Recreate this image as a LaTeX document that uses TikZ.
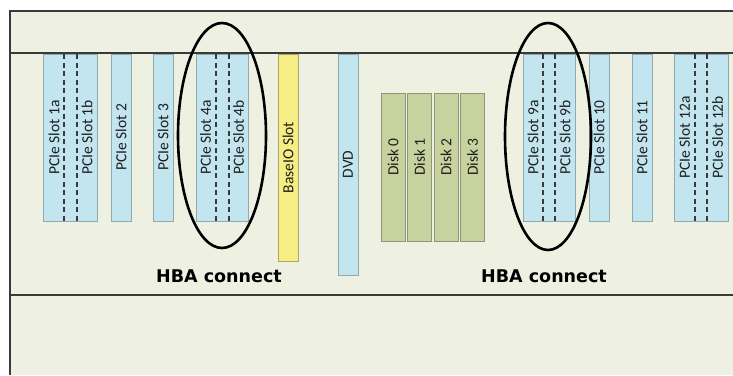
\documentclass[tikz,border=0pt]{standalone}
\usepackage{fontspec}
\newfontfamily\slotfont{Carlito}
\newfontfamily\hbafont{DejaVu Sans}
\usetikzlibrary{positioning}
\definecolor{boardback}{HTML}{EEF0E2}
\definecolor{boardline}{HTML}{3A3A3A}
\definecolor{slotblue}{HTML}{C2E5F0}
\definecolor{slotedge}{HTML}{8FA9B0}
\definecolor{baseyellow}{HTML}{F6EE84}
\definecolor{baseedge}{HTML}{ADA665}
\definecolor{diskgreen}{HTML}{C8D29E}
\definecolor{diskedge}{HTML}{8F957A}
\definecolor{textdark}{HTML}{1E1E1E}

\begin{document}
\begin{tikzpicture}[x=1pt,y=-1pt,
  slot/.style={rectangle,draw=slotedge,fill=slotblue,inner sep=0pt,outer sep=0pt,line width=0.8pt,minimum height=167pt},
  baseio/.style={slot,draw=baseedge,fill=baseyellow,minimum height=207pt},
  disk/.style={slot,draw=diskedge,fill=diskgreen,minimum width=24pt,minimum height=148pt},
  lbl/.style={rotate=90,inner sep=0pt,text=textdark,font={\slotfont\fontsize{15.5pt}{17pt}\selectfont}},
  divider/.style={dashed,dash pattern=on 5pt off 3.5pt,line width=1.1pt,draw=boardline},
  hba/.style={line width=2.6pt},
  hbatext/.style={inner sep=0pt,text=black,font={\hbafont\bfseries\fontsize{17.5pt}{19pt}\selectfont}}
]
\useasboundingbox (0,0) rectangle (733,375);
\fill[white] (0,0) rectangle (733,375);
\fill[boardback] (10,11) rectangle (733,375);
\draw[boardline,line width=2pt] (10,375) -- (10,11) -- (733,11);
\draw[boardline,line width=2pt] (10,53) -- (733,53);
\draw[boardline,line width=2pt] (10,295) -- (733,295);

% slots
\node[slot,minimum width=54pt] (pcie1) at (70,137.5) {};
\node[slot,minimum width=20pt] (pcie2) at (121,137.5) {};
\node[slot,minimum width=20pt] (pcie3) at (163,137.5) {};
\node[slot,minimum width=52pt] (pcie4) at (222,137.5) {};
\node[baseio,minimum width=20pt] (baseio) at (288,157.5) {};
\node[slot,minimum width=20pt,minimum height=221pt] (dvd) at (348,164.5) {};
\node[disk] (disk0) at (393,167) {};
\node[disk] (disk1) at (419.5,167) {};
\node[disk] (disk2) at (446,167) {};
\node[disk] (disk3) at (472.5,167) {};
\node[slot,minimum width=52pt] (pcie9) at (549,137.5) {};
\node[slot,minimum width=20pt] (pcie10) at (599,137.5) {};
\node[slot,minimum width=20pt] (pcie11) at (642,137.5) {};
\node[slot,minimum width=54pt] (pcie12) at (701,137.5) {};

% dividers of the double slots
\draw[divider] ([xshift=21pt]pcie1.north west) -- ([xshift=21pt]pcie1.south west);
\draw[divider] ([xshift=34pt]pcie1.north west) -- ([xshift=34pt]pcie1.south west);
\draw[divider] ([xshift=20pt]pcie4.north west) -- ([xshift=20pt]pcie4.south west);
\draw[divider] ([xshift=33pt]pcie4.north west) -- ([xshift=33pt]pcie4.south west);
\draw[divider] ([xshift=20pt]pcie9.north west) -- ([xshift=20pt]pcie9.south west);
\draw[divider] ([xshift=32pt]pcie9.north west) -- ([xshift=32pt]pcie9.south west);
\draw[divider] ([xshift=21pt]pcie12.north west) -- ([xshift=21pt]pcie12.south west);
\draw[divider] ([xshift=33pt]pcie12.north west) -- ([xshift=33pt]pcie12.south west);

% labels
\node[lbl] (l1a) at (54,137.5) {PCIe Slot 1a};
\node[lbl] (l1b) at (87,137.5) {PCIe Slot 1b};
\node[lbl] (l2) at (pcie2) {PCIe Slot 2};
\node[lbl] (l3) at (pcie3) {PCIe Slot 3};
\node[lbl] (l4a) at (205.5,137.5) {PCIe Slot 4a};
\node[lbl] (l4b) at (238.5,137.5) {PCIe Slot 4b};
\node[lbl] (lbase) at (baseio) {BaseIO Slot};
\node[lbl] (ldvd) at (dvd) {DVD};
\node[lbl] (ld0) at (393,157) {Disk 0};
\node[lbl] (ld1) at (419.5,157) {Disk 1};
\node[lbl] (ld2) at (446,157) {Disk 2};
\node[lbl] (ld3) at (472.5,157) {Disk 3};
\node[lbl] (l9a) at (533,137.5) {PCIe Slot 9a};
\node[lbl] (l9b) at (565,137.5) {PCIe Slot 9b};
\node[lbl] (l10) at (pcie10) {PCIe Slot 10};
\node[lbl] (l11) at (pcie11) {PCIe Slot 11};
\node[lbl] (l12a) at (684.5,137.5) {PCIe Slot 12a};
\node[lbl] (l12b) at (717.5,137.5) {PCIe Slot 12b};

% HBA groups
\draw[hba] (222,135.5) ellipse [x radius=44,y radius=112.5];
\draw[hba] (548,136.5) ellipse [x radius=43,y radius=113.5];
\node[hbatext] (hbaleft) at (219,276) {HBA connect};
\node[hbatext] (hbaright) at (544,276) {HBA connect};
\end{tikzpicture}
\end{document}
